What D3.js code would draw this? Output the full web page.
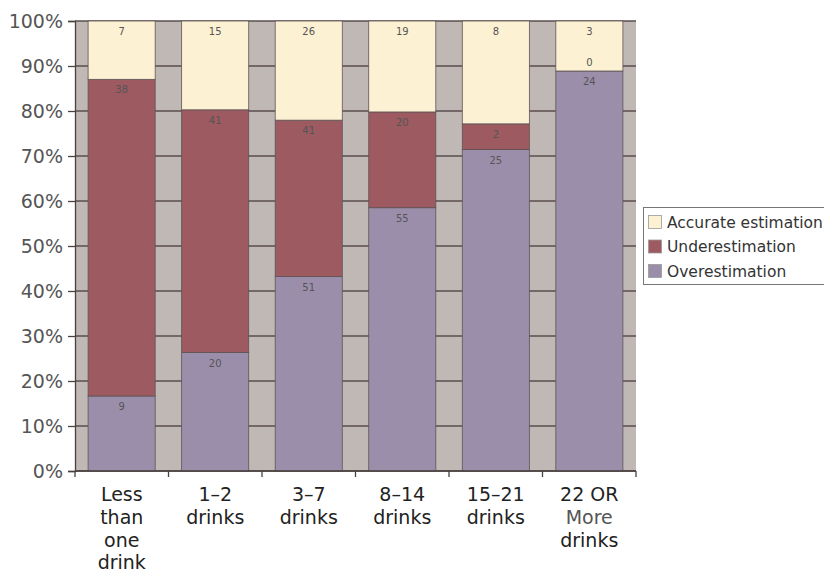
<!DOCTYPE html>
<html>
<head>
<meta charset="utf-8">
<script src="https://cdn.jsdelivr.net/npm/d3@7/dist/d3.min.js"></script>
<style>
  html, body { margin: 0; padding: 0; background: #fff; overflow: hidden; }
  svg { display: block; font-family: "DejaVu Sans", Verdana, sans-serif; }
</style>
</head>
<body>
<svg id="chart" width="824" height="572"></svg>
<script>
// Drinking categories (multi-line axis labels)
const categories = [
  ["Less", "than", "one", "drink"],
  ["1–2", "drinks"],
  ["3–7", "drinks"],
  ["8–14", "drinks"],
  ["15–21", "drinks"],
  ["22 OR", "More", "drinks"]
];
// Respondent counts per category
const overestimation  = [9, 20, 51, 55, 25, 24];
const underestimation = [38, 41, 41, 20, 2, 0];
const accurate        = [7, 15, 26, 19, 8, 3];
const seriesNames  = ["Overestimation", "Underestimation", "Accurate estimation"];
const seriesColors = ["#9b8eab", "#9d5a61", "#fdf1d3"];
const yTicks = [0, 0.1, 0.2, 0.3, 0.4, 0.5, 0.6, 0.7, 0.8, 0.9, 1.0];

const svg = d3.select("#chart");
const plotL = 75, plotR = 636, plotT = 21, plotB = 471;

const x = d3.scaleBand()
  .domain(d3.range(categories.length))
  .range([plotL, plotR])
  .paddingInner(0.283)
  .paddingOuter(0.14);
const y = d3.scaleLinear().domain([0, 1]).range([plotB, plotT]);
// category slots for axis ticks and labels
const slot = d3.scaleLinear().domain([0, categories.length]).range([plotL, plotR]);

const seriesData = [overestimation, underestimation, accurate];

// plot background
svg.append("rect")
  .attr("x", plotL).attr("y", plotT)
  .attr("width", plotR - plotL).attr("height", plotB - plotT)
  .attr("fill", "#c0b8b4");

// horizontal gridlines
svg.append("g").selectAll("line").data(yTicks).join("line")
  .attr("x1", plotL).attr("x2", plotR)
  .attr("y1", d => y(d)).attr("y2", d => y(d))
  .attr("stroke", "#5a4e4e").attr("stroke-width", 1.3);

// stacked percentages
const rows = categories.map((c, i) => {
  const total = overestimation[i] + underestimation[i] + accurate[i];
  let acc = 0;
  return seriesData.map((s, k) => {
    const y0 = acc / total;
    acc += s[i];
    return { i, k, v: s[i], y0, y1: acc / total };
  });
});
const segs = rows.flat();

svg.append("g").selectAll("rect").data(segs).join("rect")
  .attr("x", d => x(d.i))
  .attr("width", x.bandwidth())
  .attr("y", d => y(d.y1))
  .attr("height", d => y(d.y0) - y(d.y1))
  .attr("fill", d => seriesColors[d.k])
  .attr("stroke", "#5e5454")
  .attr("stroke-width", 0.8);

// value labels near the top of each segment
svg.append("g").selectAll("text").data(segs).join("text")
  .attr("x", d => x(d.i) + x.bandwidth() / 2)
  .attr("y", d => d.v === 0 ? y(d.y1) - 5 : y(d.y1) + 14)
  .attr("text-anchor", "middle")
  .attr("font-size", 10)
  .attr("fill", "#555")
  .text(d => d.v);

// y axis
const yAxis = d3.axisLeft(y).tickValues(yTicks).tickFormat(d3.format(".0%")).tickSize(7).tickPadding(5);
const yg = svg.append("g").attr("transform", `translate(${plotL},0)`).call(yAxis);
yg.select(".domain").attr("stroke", "#4a4040").attr("stroke-width", 1.3);
yg.selectAll(".tick line").attr("stroke", "#4a4040").attr("stroke-width", 1.3);
yg.selectAll(".tick text")
  .attr("font-size", 19).attr("fill", "#555")
  .attr("font-family", "DejaVu Sans, Verdana, sans-serif");

// x axis baseline and ticks at category boundaries
svg.append("line")
  .attr("x1", plotL).attr("x2", plotR).attr("y1", plotB).attr("y2", plotB)
  .attr("stroke", "#4a4040").attr("stroke-width", 1.3);
svg.append("g").selectAll("line").data(d3.range(categories.length + 1)).join("line")
  .attr("x1", d => slot(d)).attr("x2", d => slot(d))
  .attr("y1", plotB).attr("y2", plotB + 6)
  .attr("stroke", "#4a4040").attr("stroke-width", 1.3);

// category labels
svg.append("g").selectAll("text").data(categories).join("text")
  .attr("text-anchor", "middle")
  .attr("font-size", 19)
  .each(function(lines, i) {
    const t = d3.select(this);
    lines.forEach((ln, j) => {
      t.append("tspan")
        .attr("x", slot(i + 0.5))
        .attr("y", 501 + j * 22.8)
        .attr("fill", ln === "More" ? "#555" : "#222")
        .text(ln);
    });
  });

// legend
const lg = svg.append("g");
lg.append("rect")
  .attr("x", 643.5).attr("y", 207.5).attr("width", 200).attr("height", 77)
  .attr("fill", "#fff").attr("stroke", "#777").attr("stroke-width", 1);
const legendOrder = [2, 1, 0];
legendOrder.forEach((k, j) => {
  const cy = 222 + j * 24.5;
  lg.append("rect")
    .attr("x", 648.5).attr("y", cy - 6.5).attr("width", 13).attr("height", 13)
    .attr("fill", seriesColors[k]).attr("stroke", "#999").attr("stroke-width", 0.8);
  lg.append("text")
    .attr("x", 667).attr("y", cy + 5.5)
    .attr("font-size", 15.5).attr("fill", "#333")
    .text(seriesNames[k]);
});
</script>
</body>
</html>
